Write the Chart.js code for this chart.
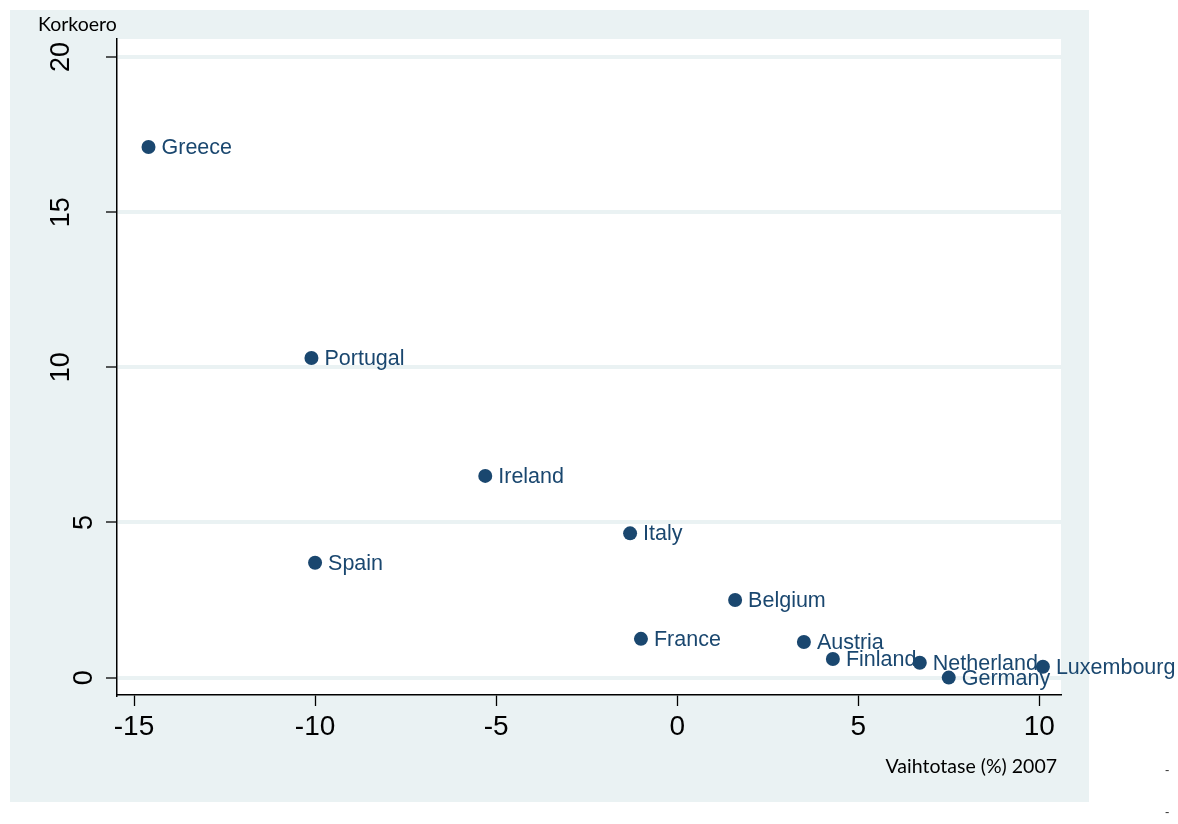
<!DOCTYPE html>
<html><head><meta charset="utf-8">
<script src="https://cdn.jsdelivr.net/npm/chart.js@4"></script>
<style>html,body{margin:0;padding:0;background:#fff;}canvas{display:block;}</style>
</head><body>
<canvas id="c" width="1178" height="824"></canvas>
<script>
const countries = ['Greece','Portugal','Ireland','Italy','Spain','Belgium','France','Austria','Finland','Netherland','Luxembourg','Germany'];
const currentAccount = [-14.6, -10.1, -5.3, -1.3, -10.0, 1.6, -1.0, 3.5, 4.3, 6.7, 10.1, 7.5];
const spread = [17.1, 10.3, 6.5, 4.65, 3.7, 2.5, 1.25, 1.15, 0.6, 0.48, 0.35, 0.0];
const xTicks = [-15, -10, -5, 0, 5, 10];
const yTicks = [0, 5, 10, 15, 20];
const xTitle = 'Vaihtotase (%) 2007';
const yTitle = 'Korkoero';

const BG = '#EAF2F3';
const NAVY = '#1A476F';

const points = countries.map((c, i) => ({x: currentAccount[i], y: spread[i]}));

const bgPlugin = {
  id: 'bg',
  beforeDraw(chart) {
    const ctx = chart.ctx, a = chart.chartArea;
    ctx.save();
    ctx.fillStyle = BG;
    ctx.fillRect(10, 10, 1079, 792);
    ctx.fillStyle = '#ffffff';
    ctx.fillRect(a.left, a.top, a.right - a.left, a.bottom - a.top);
    ctx.restore();
  }
};

const labelPlugin = {
  id: 'ptlabels',
  afterDatasetsDraw(chart) {
    const ctx = chart.ctx;
    const meta = chart.getDatasetMeta(0);
    ctx.save();
    ctx.font = '21.5px "Liberation Sans", Arial, sans-serif';
    ctx.fillStyle = NAVY;
    ctx.textAlign = 'left';
    ctx.textBaseline = 'middle';
    meta.data.forEach((el, i) => {
      ctx.fillText(countries[i], el.x + 13, el.y + 1);
    });
    ctx.restore();
  }
};

const textPlugin = {
  id: 'texts',
  afterDraw(chart) {
    const ctx = chart.ctx;
    const ys = chart.scales.y;
    ctx.save();
    ctx.fillStyle = '#000';
    ctx.font = '27px "Liberation Sans", Arial, sans-serif';
    ctx.textAlign = 'center';
    ctx.textBaseline = 'middle';
    yTicks.forEach(v => {
      const label = String(v);
      const y = ys.getPixelForValue(v);
      const cx = label.length === 1 ? 85 : 62;
      ctx.save();
      ctx.translate(cx, y);
      ctx.rotate(-Math.PI / 2);
      ctx.fillText(label, 0, 0);
      ctx.restore();
    });
    ctx.font = '19.5px Lato, "Open Sans", sans-serif';
    ctx.textBaseline = 'alphabetic';
    ctx.textAlign = 'left';
    ctx.fillText(yTitle, 38, 31);
    ctx.textAlign = 'right';
    ctx.fillText(xTitle, 1057, 773);
    ctx.font = '13px "Liberation Sans", sans-serif';
    ctx.fillStyle = '#333';
    ctx.textAlign = 'left';
    ctx.fillText('-', 1165, 774);
    ctx.fillText('-', 1165, 816);
    ctx.restore();
  }
};

new Chart(document.getElementById('c'), {
  type: 'scatter',
  data: {
    datasets: [{
      data: points,
      pointRadius: 7,
      pointHoverRadius: 7,
      pointBackgroundColor: NAVY,
      pointBorderWidth: 0,
      pointBorderColor: NAVY
    }]
  },
  options: {
    responsive: false,
    animation: false,
    devicePixelRatio: 1,
    events: [],
    layout: {padding: {left: 0, top: 39, right: 117, bottom: 0}},
    plugins: {legend: {display: false}, tooltip: {enabled: false}},
    scales: {
      x: {
        type: 'linear',
        min: -15.47,
        max: 10.6,
        afterBuildTicks: s => { s.ticks = xTicks.map(v => ({value: v})); },
        afterFit: s => { s.height = 129; },
        border: {display: true, color: '#000', width: 1.5},
        grid: {drawOnChartArea: false, drawTicks: true, tickLength: 11, tickColor: '#000', tickWidth: 1.3, color: '#000'},
        ticks: {
          font: {family: '"Liberation Sans", Arial, sans-serif', size: 28},
          color: '#000',
          padding: 4,
          maxRotation: 0,
          minRotation: 0,
          callback: v => String(v)
        }
      },
      y: {
        type: 'linear',
        min: -0.56,
        max: 20.58,
        afterBuildTicks: s => { s.ticks = yTicks.map(v => ({value: v})); },
        afterFit: s => { s.width = 117; },
        border: {display: true, color: '#000', width: 1.5},
        grid: {drawOnChartArea: true, drawTicks: true, tickLength: 11, tickColor: '#000', tickWidth: 1.3, color: BG, lineWidth: 4},
        ticks: {display: false}
      }
    }
  },
  plugins: [bgPlugin, labelPlugin, textPlugin]
});
</script>
</body></html>
